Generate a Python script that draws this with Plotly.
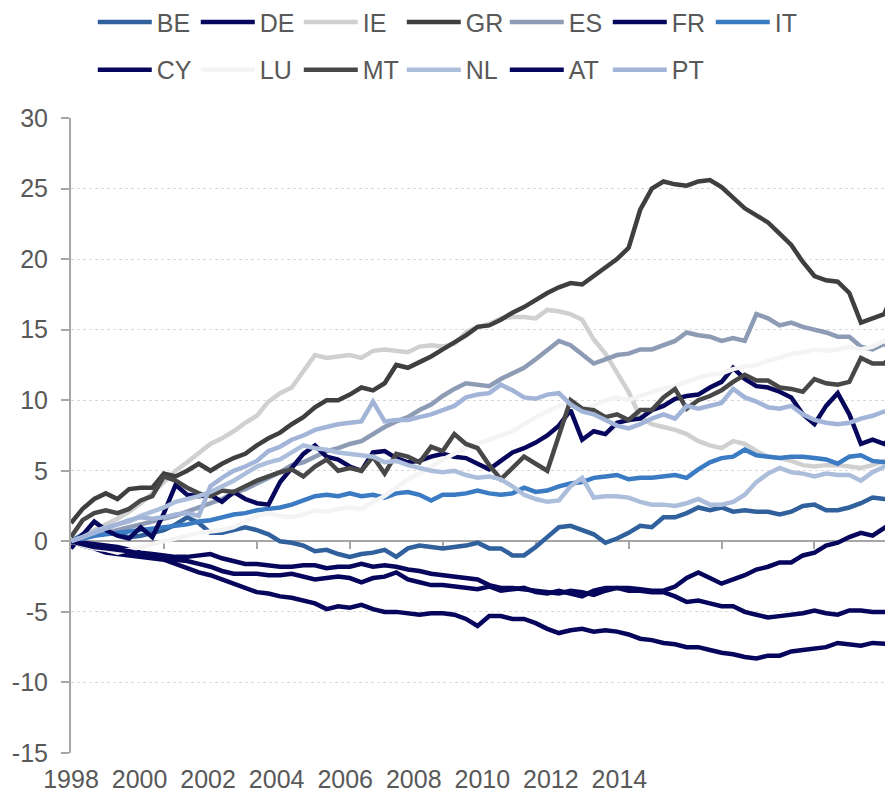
import plotly.graph_objects as go

# ---------------- data (quarterly readings, last point Sep-2015) ----------------
years = [1998 + q / 4 for q in range(71)] + [2015 + 8 / 12]

BE = [0.0, 0.5, 0.7, 0.6,
      0.5, 0.3, 0.4, 0.6,
      0.8, 1.2, 1.7, 1.3,
      0.6, 0.6, 0.8, 1.0,
      0.8, 0.5, 0.0, -0.1,
      -0.3, -0.7, -0.6, -0.9,
      -1.1, -0.9, -0.8, -0.6,
      -1.1, -0.5, -0.3, -0.4,
      -0.5, -0.4, -0.3, -0.1,
      -0.5, -0.5, -1.0, -1.0,
      -0.4, 0.3, 1.0, 1.1,
      0.8, 0.5, -0.1, 0.2,
      0.6, 1.1, 1.0, 1.7,
      1.7, 2.0, 2.4, 2.2,
      2.4, 2.1, 2.2, 2.1,
      2.1, 1.9, 2.1, 2.5,
      2.6, 2.2, 2.2, 2.4,
      2.7, 3.1, 3.0, 3.0]

DE = [0.0, -0.3, -0.5, -0.8,
      -0.9, -1.0, -1.1, -1.2,
      -1.3, -1.6, -1.9, -2.2,
      -2.4, -2.7, -3.0, -3.3,
      -3.6, -3.7, -3.9, -4.0,
      -4.2, -4.4, -4.8, -4.6,
      -4.7, -4.5, -4.8, -5.0,
      -5.0, -5.1, -5.2, -5.1,
      -5.1, -5.2, -5.5, -6.0,
      -5.3, -5.3, -5.5, -5.5,
      -5.8, -6.2, -6.5, -6.3,
      -6.2, -6.4, -6.3, -6.4,
      -6.6, -6.9, -7.0, -7.2,
      -7.3, -7.5, -7.5, -7.7,
      -7.9, -8.0, -8.2, -8.3,
      -8.1, -8.1, -7.8, -7.7,
      -7.6, -7.5, -7.2, -7.3,
      -7.4, -7.2, -7.3, -7.3]

IE = [0.0, 0.3, 0.8, 1.2,
      1.6, 2.1, 2.7, 3.4,
      4.2, 5.0, 5.6, 6.3,
      6.9, 7.3, 7.8, 8.4,
      8.9, 9.9, 10.5, 10.9,
      12.0, 13.2, 13.0, 13.1,
      13.2, 13.0, 13.5, 13.6,
      13.5, 13.4, 13.8, 13.9,
      13.8, 14.0, 14.8, 15.2,
      15.4, 15.8, 15.9, 15.9,
      15.8, 16.4, 16.3, 16.1,
      15.7, 14.3, 13.3, 12.0,
      10.6, 8.8, 8.3, 8.1,
      7.9, 7.6, 7.1, 6.8,
      6.6, 7.1, 6.9, 6.4,
      6.0, 5.9, 5.7, 5.4,
      5.3, 5.4, 5.4, 5.3,
      5.2, 5.4, 5.7, 5.8]

GR = [1.3, 2.3, 3.0, 3.4,
      3.0, 3.7, 3.8, 3.8,
      4.8, 4.6, 5.0, 5.5,
      5.0, 5.5, 5.9, 6.2,
      6.8, 7.3, 7.7, 8.3,
      8.8, 9.5, 10.0, 10.0,
      10.4, 10.9, 10.7, 11.2,
      12.5, 12.3, 12.7, 13.1,
      13.6, 14.1, 14.6, 15.2,
      15.3, 15.7, 16.2, 16.6,
      17.1, 17.6, 18.0, 18.3,
      18.2, 18.8, 19.4, 20.0,
      20.8, 23.5, 25.0, 25.5,
      25.3, 25.2, 25.5, 25.6,
      25.1, 24.4, 23.6, 23.1,
      22.6, 21.8, 21.0, 19.8,
      18.8, 18.5, 18.4, 17.6,
      15.5, 15.8, 16.1, 17.4]

ES = [0.0, 0.2, 0.4, 0.6,
      0.8, 1.0, 1.2, 1.4,
      1.6, 1.8, 2.1, 2.4,
      2.7, 3.0, 3.4, 3.7,
      4.1, 4.5, 4.9, 5.4,
      5.6, 6.0, 6.4, 6.6,
      6.9, 7.1, 7.6, 8.1,
      8.5, 8.8, 9.3, 9.7,
      10.3, 10.8, 11.2, 11.1,
      11.0, 11.5, 11.9, 12.3,
      12.9, 13.6, 14.2, 13.9,
      13.2, 12.6, 12.9, 13.2,
      13.3, 13.6, 13.6, 13.9,
      14.2, 14.8, 14.6, 14.5,
      14.2, 14.4, 14.2, 16.1,
      15.8, 15.3, 15.5, 15.2,
      15.0, 14.8, 14.5, 14.5,
      13.8, 13.6, 14.0, 13.6]

FR = [0.0, -0.1, -0.2, -0.3,
      -0.4, -0.6, -0.8, -0.9,
      -1.0, -1.1, -1.1, -1.0,
      -0.9, -1.2, -1.4, -1.6,
      -1.6, -1.7, -1.8, -1.8,
      -1.7, -1.7, -1.9, -1.8,
      -1.8, -1.6, -1.8, -1.7,
      -1.8, -2.0, -2.1, -2.3,
      -2.4, -2.5, -2.6, -2.7,
      -3.1, -3.3, -3.3, -3.4,
      -3.5, -3.6, -3.7, -3.5,
      -3.6, -3.8, -3.5, -3.3,
      -3.3, -3.4, -3.5, -3.5,
      -3.2, -2.6, -2.2, -2.6,
      -3.0, -2.7, -2.4, -2.0,
      -1.8, -1.5, -1.5, -1.0,
      -0.8, -0.3, -0.1, 0.3,
      0.6, 0.4, 0.9, 1.3]

IT = [0.0, 0.2, 0.4, 0.5,
      0.6, 0.7, 0.8, 0.9,
      1.0, 1.1, 1.2, 1.4,
      1.5, 1.7, 1.9, 2.0,
      2.2, 2.3, 2.4, 2.6,
      2.9, 3.2, 3.3, 3.2,
      3.4, 3.2, 3.3, 3.1,
      3.4, 3.5, 3.3, 2.9,
      3.3, 3.3, 3.4, 3.6,
      3.4, 3.3, 3.4, 3.8,
      3.5, 3.6, 3.9, 4.1,
      4.2, 4.5, 4.6, 4.7,
      4.4, 4.5, 4.5, 4.6,
      4.7, 4.5, 5.1, 5.6,
      5.9, 6.0, 6.5, 6.1,
      6.0, 5.9, 6.0, 6.0,
      5.9, 5.8, 5.5, 6.0,
      6.1, 5.7, 5.6, 5.5]

CY = [-0.5, 0.5, 1.4, 0.8,
      0.4, 0.2, 1.0, 0.3,
      2.0, 4.0, 3.3, 3.2,
      3.3, 2.8, 3.5, 3.0,
      2.7, 2.6, 4.2, 5.2,
      6.2, 6.8, 6.0, 5.8,
      5.3, 5.0, 6.3, 6.4,
      5.9, 5.6, 5.7, 6.0,
      6.2, 6.0, 5.9, 5.5,
      5.1, 5.7, 6.3, 6.6,
      7.0, 7.5, 8.2, 9.3,
      7.2, 7.8, 7.6, 8.4,
      8.6, 8.7, 9.3, 9.6,
      10.1, 10.3, 10.4, 10.9,
      11.3, 12.3, 11.5, 11.0,
      10.9, 10.6, 10.2, 9.0,
      8.3, 9.6, 10.5, 9.0,
      6.9, 7.2, 6.9, 7.4]

LU = [0.0, -0.3, -0.5, -0.6,
      -0.8, -0.6, -0.4, -0.2,
      0.0, 0.2, 0.4, 0.6,
      0.7, 0.8, 1.0, 1.4,
      1.8, 2.0, 1.8, 1.7,
      1.9, 2.2, 2.1, 2.3,
      2.4, 2.3, 2.8, 3.2,
      3.8, 4.4, 4.8, 5.3,
      5.8, 6.2, 6.6, 6.9,
      7.2, 7.5, 7.8, 8.3,
      8.8, 9.2, 9.6, 9.8,
      9.4, 9.6, 10.0, 10.2,
      10.0, 10.3, 10.6, 10.8,
      11.0, 11.3, 11.6, 11.8,
      11.9, 12.2, 12.4, 12.5,
      12.8, 13.0, 13.3, 13.4,
      13.6, 13.5, 13.6, 13.8,
      13.6, 13.8, 14.2, 13.8]

MT = [0.3, 1.5, 2.0, 2.2,
      2.0, 2.3, 2.9, 3.2,
      4.6, 4.3, 3.8, 3.4,
      3.2, 3.6, 3.5, 3.9,
      4.3, 4.6, 4.9, 5.1,
      4.6, 5.3, 5.8, 5.0,
      5.2, 5.0, 6.0, 4.8,
      6.2, 6.0, 5.6, 6.7,
      6.4, 7.6, 6.9, 6.6,
      5.4, 4.4, 5.2, 6.0,
      5.5, 5.0, 7.5, 10.0,
      9.4, 9.3, 8.8, 9.0,
      8.6, 9.3, 9.3, 10.2,
      10.8, 9.4, 10.0, 10.3,
      10.7, 11.3, 11.8, 11.4,
      11.4, 10.9, 10.8, 10.6,
      11.5, 11.2, 11.1, 11.3,
      13.0, 12.6, 12.6, 13.1]

NL = [0.0, 0.3, 0.7, 1.0,
      1.2, 1.4, 1.8, 2.1,
      2.4, 2.8, 3.0, 3.2,
      3.5, 3.9, 4.3, 4.8,
      5.3, 5.6, 5.8, 6.3,
      6.8, 6.6, 6.5, 6.3,
      6.2, 6.1, 6.0, 5.6,
      5.7, 5.4, 5.2, 5.0,
      4.9, 5.0, 4.7, 4.5,
      4.6, 4.4, 3.9, 3.3,
      3.0, 2.8, 2.9, 3.9,
      4.5, 3.1, 3.2, 3.2,
      3.1, 2.8, 2.6, 2.6,
      2.5, 2.7, 3.0, 2.6,
      2.6, 2.8, 3.3, 4.2,
      4.8, 5.2, 4.9, 4.8,
      4.6, 4.8, 4.7, 4.7,
      4.3, 4.9, 5.3, 5.4]

AT = [0.0, -0.2, -0.4, -0.5,
      -0.6, -0.7, -0.9, -1.0,
      -1.1, -1.3, -1.4, -1.6,
      -1.8, -2.1, -2.3, -2.3,
      -2.3, -2.4, -2.4, -2.3,
      -2.5, -2.7, -2.6, -2.5,
      -2.6, -2.9, -2.6, -2.5,
      -2.2, -2.7, -2.9, -3.1,
      -3.1, -3.2, -3.3, -3.4,
      -3.2, -3.5, -3.4, -3.3,
      -3.6, -3.7, -3.5, -3.7,
      -3.9, -3.5, -3.3, -3.3,
      -3.5, -3.5, -3.6, -3.6,
      -3.9, -4.3, -4.2, -4.4,
      -4.6, -4.6, -5.0, -5.2,
      -5.4, -5.3, -5.2, -5.1,
      -4.9, -5.1, -5.2, -4.9,
      -4.9, -5.0, -5.0, -5.1]

PT = [0.0, 0.3, 0.6, 0.9,
      1.2, 1.5, 1.7, 1.6,
      1.7, 1.9, 2.0, 1.8,
      3.9, 4.5, 5.0, 5.3,
      5.7, 6.4, 6.7, 7.2,
      7.5, 7.9, 8.1, 8.3,
      8.4, 8.5, 9.9, 8.5,
      8.6, 8.6, 8.8, 9.0,
      9.3, 9.6, 10.2, 10.4,
      10.5, 11.1, 10.7, 10.2,
      10.1, 10.4, 10.5, 9.7,
      9.2, 9.0, 8.6, 8.2,
      8.0, 8.3, 8.7, 9.0,
      8.7, 9.6, 9.4, 9.6,
      9.8, 10.8, 10.2, 9.9,
      9.5, 9.4, 9.6, 9.0,
      8.6, 8.4, 8.3, 8.4,
      8.7, 8.9, 9.2, 9.1]

series_names = ["BE", "DE", "IE", "GR", "ES", "FR", "IT",
                "CY", "LU", "MT", "NL", "AT", "PT"]
series_values = [BE, DE, IE, GR, ES, FR, IT, CY, LU, MT, NL, AT, PT]
series_colors = ["#30619C", "#06065C", "#D0D0D0", "#3F3F3F", "#8D9BB5",
                 "#06065C", "#3A7BC3", "#06065C", "#F4F4F4", "#484848",
                 "#ADBEDC", "#06065C", "#A2B5D8"]

label_years = [1998, 2000, 2002, 2004, 2006, 2008, 2010, 2012, 2014]
y_ticks = [-15, -10, -5, 0, 5, 10, 15, 20, 25, 30]

# ---------------- figure ----------------
FONT = "Liberation Sans, Arial, sans-serif"
TXT = "#595959"
AXC = "#A6A6A6"
X0, X1 = 1998.0, 2015.69
# the category labels of the original are spaced tighter than the time axis
LABEL_STEP = 34.3 / 46.5

fig = go.Figure()
for i, (name, vals, col) in enumerate(zip(series_names, series_values, series_colors)):
    fig.add_trace(go.Scatter(
        x=years, y=vals, name=name, mode="lines",
        line=dict(color=col, width=4.5),
        legend="legend" if i < 7 else "legend2",
        hoverinfo="skip",
    ))

# invisible carrier trace for the label axis
fig.add_trace(go.Scatter(x=[X0], y=[None], xaxis="x2", showlegend=False,
                         hoverinfo="skip", mode="lines"))

legend_common = dict(
    orientation="h", xanchor="left", yanchor="top",
    font=dict(family=FONT, size=25, color=TXT),
    bgcolor="rgba(0,0,0,0)", itemwidth=54,
    entrywidth=34, entrywidthmode="pixels",
    traceorder="normal",
)

# the page body has an 8px margin, so the figure is sized to fit the window
fig.update_layout(
    width=885, height=789,
    margin=dict(l=63, r=0, t=110, b=44, autoexpand=False),
    paper_bgcolor="white", plot_bgcolor="white",
    showlegend=True,
    legend=dict(x=0.0265, y=1.187, **legend_common),
    legend2=dict(x=0.0265, y=1.112, **legend_common),
    xaxis=dict(
        range=[X0, X1], anchor="free", position=1 / 3,
        showgrid=False, zeroline=False,
        showline=True, linecolor=AXC, linewidth=2,
        ticks="outside", ticklen=7, tickwidth=2, tickcolor=AXC,
        tickvals=[2000, 2002, 2004, 2006, 2008, 2010, 2012, 2014],
        showticklabels=False, layer="below traces",
    ),
    xaxis2=dict(
        range=[X0, X1], overlaying="x", anchor="y", side="bottom",
        showgrid=False, zeroline=False, showline=False, ticks="",
        tickvals=[X0 + (ly - label_years[0]) * LABEL_STEP for ly in label_years],
        ticktext=[str(ly) for ly in label_years],
        tickfont=dict(family=FONT, size=25, color=TXT),
        ticklabelstandoff=9,
    ),
    yaxis=dict(
        range=[-15, 30], tickvals=y_ticks,
        ticktext=[str(v) for v in y_ticks],
        showgrid=True, gridcolor="#D9D9D9", gridwidth=1, griddash="dot",
        zeroline=False,
        showline=True, linecolor=AXC, linewidth=2,
        ticks="outside", ticklen=8, tickwidth=2, tickcolor=AXC,
        tickfont=dict(family=FONT, size=25, color=TXT),
        ticklabelstandoff=8,
        layer="below traces",
    ),
)

fig.write_html("out.html")
